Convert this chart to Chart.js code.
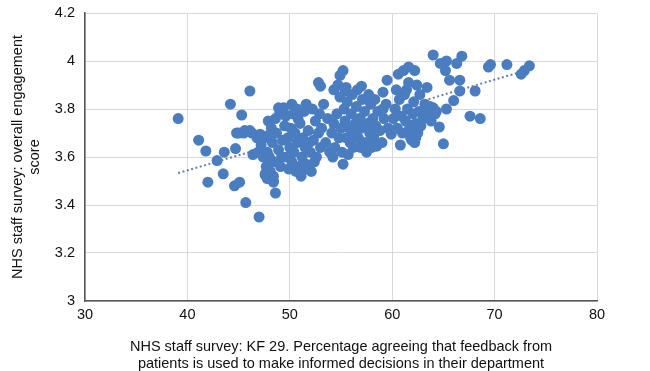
<!DOCTYPE html>
<html>
<head>
<meta charset="utf-8">
<script src="https://cdn.jsdelivr.net/npm/chart.js@4/dist/chart.umd.min.js"></script>
<style>
  html, body { margin: 0; padding: 0; background: #fff; }
  #wrap { width: 650px; height: 371px; }
</style>
</head>
<body>
<div id="wrap"><canvas id="myChart" width="650" height="371"></canvas></div>
<script>
'use strict';

// x = % agreeing feedback used (KF 29), y = overall engagement score
let feedbackPct = [
  39.1, 41.1, 41.8, 42.0, 42.9, 43.5, 43.6, 44.2, 44.6, 45.1, 44.7, 44.8, 45.3, 45.5, 46.1, 46.1,
  45.7, 47.0, 46.4, 46.9, 47.1, 47.6, 48.6, 48.4, 47.9, 48.9, 49.4, 50.2, 50.7, 51.6, 52.8, 53.0,
  54.3, 54.9, 55.2, 55.4, 57.0, 56.9, 58.5, 59.5, 59.1, 59.9, 60.6, 61.1, 61.6, 62.2, 61.4, 63.4,
  62.7, 64.0, 64.7, 65.2, 65.3, 65.6, 66.3, 66.8, 66.6, 66.6, 66.0, 65.3, 64.6, 65.0, 67.6, 68.6,
  68.1, 69.4, 69.6, 71.2, 72.6, 72.9, 73.4, 64.0, 63.7, 63.4, 64.3, 62.3, 62.0, 61.9,
  // 45-50
  45.0, 45.6, 46.3, 46.8, 48.4, 47.6, 47.8,
  47.2, 47.5, 47.8, 48.0, 48.3, 48.5, 48.7, 48.9, 49.1, 49.3, 49.5, 49.7, 49.9, 48.2, 48.6, 49.0,
  49.6, 47.7, 48.1, 48.4, 47.4, 49.2, 49.8, 50.0, 47.9,
  // 50-54
  50.2, 50.4, 50.5, 50.7, 50.9, 51.0, 51.2, 51.3, 51.5, 51.6, 51.8, 52.0, 52.1, 52.3, 52.5, 52.6,
  52.8, 53.0, 50.3, 50.8, 51.4, 52.2, 52.9, 51.1, 51.7, 50.6, 52.4, 53.1, 53.3, 53.5, 53.7, 53.9,
  50.1, 51.9,
  // 54-60
  54.1, 54.3, 54.4, 54.6, 54.8, 54.9, 55.0, 55.1, 55.3, 55.4, 55.5, 55.6, 55.8, 55.9, 56.0, 56.1,
  56.3, 56.4, 56.5, 56.7, 56.8, 57.0, 57.1, 57.3, 57.4, 57.6, 57.8, 57.9, 58.1, 58.2, 58.4, 58.6,
  58.8, 59.0, 59.2, 59.4, 59.6, 54.2, 55.2, 55.7, 56.2, 57.5, 58.0, 54.7, 55.5, 56.6, 57.7, 58.3,
  59.1,
  // 60-64
  60.1, 60.3, 60.5, 60.7, 60.9, 61.0, 61.2, 61.3, 61.5, 61.7, 61.8, 62.0, 62.1, 62.3, 62.5, 62.6,
  62.8, 63.0, 63.2, 63.4, 63.6, 63.8, 64.2, 61.6, 62.4, 60.4, 61.9, 62.2, 60.8
];

let engagement = [
  3.76, 3.67, 3.625, 3.495, 3.585, 3.53, 3.62, 3.82, 3.48, 3.495, 3.635, 3.70, 3.775, 3.70, 3.875, 3.71,
  3.41, 3.35, 3.61, 3.62, 3.695, 3.525, 3.45, 3.495, 3.75, 3.805, 3.805, 3.82, 3.80, 3.82, 3.91, 3.895,
  3.88, 3.94, 3.96, 3.875, 3.895, 3.64, 3.645, 3.92, 3.87, 3.695, 3.945, 3.96, 3.975, 3.96, 3.88, 3.89,
  3.86, 4.025, 3.99, 3.96, 4.0, 3.92, 3.99, 4.02, 3.92, 3.875, 3.835, 3.80, 3.725, 3.655, 3.77, 3.76,
  3.875, 3.975, 3.985, 3.985, 3.945, 3.96, 3.98, 3.805, 3.81, 3.79, 3.79, 3.68, 3.70, 3.73,
  // 45-50
  3.70, 3.71, 3.70, 3.68, 3.50, 3.53, 3.51,
  3.65, 3.68, 3.62, 3.60, 3.66, 3.58, 3.70, 3.63, 3.56, 3.67, 3.73, 3.60, 3.55, 3.72, 3.76, 3.78,
  3.77, 3.56, 3.54, 3.52, 3.60, 3.60, 3.68, 3.64, 3.69,
  // 50-54
  3.58, 3.62, 3.70, 3.66, 3.56, 3.74, 3.60, 3.68, 3.64, 3.57, 3.71, 3.62, 3.54, 3.67, 3.75, 3.60,
  3.70, 3.64, 3.78, 3.76, 3.79, 3.80, 3.78, 3.52, 3.55, 3.54, 3.58, 3.72, 3.82, 3.66, 3.76, 3.62,
  3.72, 3.66,
  // 54-60
  3.70, 3.74, 3.64, 3.78, 3.68, 3.85, 3.72, 3.62, 3.80, 3.75, 3.68, 3.83, 3.72, 3.66, 3.78, 3.86,
  3.70, 3.74, 3.81, 3.68, 3.76, 3.72, 3.84, 3.79, 3.66, 3.74, 3.70, 3.82, 3.76, 3.68, 3.73, 3.79,
  3.71, 3.66, 3.76, 3.82, 3.72, 3.60, 3.57, 3.61, 3.64, 3.62, 3.64, 3.90, 3.89, 3.88, 3.86, 3.84,
  3.80,
  // 60-64
  3.76, 3.80, 3.72, 3.84, 3.77, 3.70, 3.86, 3.75, 3.80, 3.72, 3.68, 3.78, 3.83, 3.74, 3.70, 3.79,
  3.73, 3.76, 3.82, 3.79, 3.77, 3.75, 3.78, 3.91, 3.90, 3.88, 3.67, 3.66, 3.65
];

// dotted linear trend line, end points
let trendX = [39.1, 72.6];
let trendY = [3.533, 3.955];

let xTicks = [30, 40, 50, 60, 70, 80];
let yTicks = ['3', '3.2', '3.4', '3.6', '3.8', '4', '4.2'];

let points = [];
for (let i = 0; i < feedbackPct.length; i++) {
  points.push({ x: feedbackPct[i], y: engagement[i] });
}
let trendPoints = [];
for (let i = 0; i < trendX.length; i++) {
  trendPoints.push({ x: trendX[i], y: trendY[i] });
}

const fontName = '"Liberation Sans", Arial, sans-serif';

const config = {
  type: 'scatter',
  data: {
    datasets: [{
      label: 'Trusts',
      data: points,
      backgroundColor: '#4a7cc0',
      borderWidth: 0,
      pointRadius: 5.5,
      order: 1
    }, {
      label: 'Trend',
      type: 'line',
      data: trendPoints,
      borderColor: '#6a80ac',
      borderWidth: 2,
      borderDash: [2, 2.5],
      pointRadius: 0,
      fill: false,
      order: 2
    }]
  },
  options: {
    responsive: false,
    animation: false,
    layout: { padding: { left: 0, right: 53, top: 13, bottom: 0 } },
    plugins: { legend: { display: false }, tooltip: { enabled: false } },
    scales: {
      x: {
        type: 'linear',
        min: xTicks[0],
        max: xTicks[xTicks.length - 1],
        afterBuildTicks: function (scale) {
          scale.ticks = xTicks.map(v => ({ value: v }));
        },
        afterFit: function (scale) { scale.height = 70; },
        grid: { color: '#d9d9d9', lineWidth: 1, drawTicks: false },
        border: { color: '#555555', width: 1.5 },
        ticks: { color: '#111', font: { family: fontName, size: 14.5 }, padding: 5, maxRotation: 0 },
        title: {
          display: true,
          text: ['NHS staff survey: KF 29. Percentage agreeing that feedback from',
                 'patients is used to make informed decisions in their department'],
          color: '#111',
          font: { family: fontName, size: 14.5, lineHeight: 1.2 },
          padding: { top: 8, bottom: -2 }
        }
      },
      y: {
        type: 'linear',
        min: 3,
        max: 4.2,
        afterBuildTicks: function (scale) {
          scale.ticks = yTicks.map(v => ({ value: parseFloat(v) }));
        },
        afterFit: function (scale) {
          scale.width = 85;
          scale.paddingTop = 0;
          scale.paddingBottom = 0;
        },
        grid: { color: '#d9d9d9', lineWidth: 1, drawTicks: false },
        border: { color: '#555555', width: 1.5 },
        ticks: {
          color: '#111',
          font: { family: fontName, size: 14.5 },
          padding: 10,
          callback: function (value) {
            let idx = yTicks.map(parseFloat).indexOf(Math.round(value * 10) / 10);
            return idx >= 0 ? yTicks[idx] : '';
          }
        },
        title: {
          display: true,
          text: ['NHS staff survey: overall engagement', 'score'],
          color: '#111',
          font: { family: fontName, size: 14.5, lineHeight: 1.2 },
          padding: { top: 9, bottom: 4 }
        }
      }
    }
  }
};

const myChart = new Chart(document.getElementById('myChart'), config);
</script>
</body>
</html>
